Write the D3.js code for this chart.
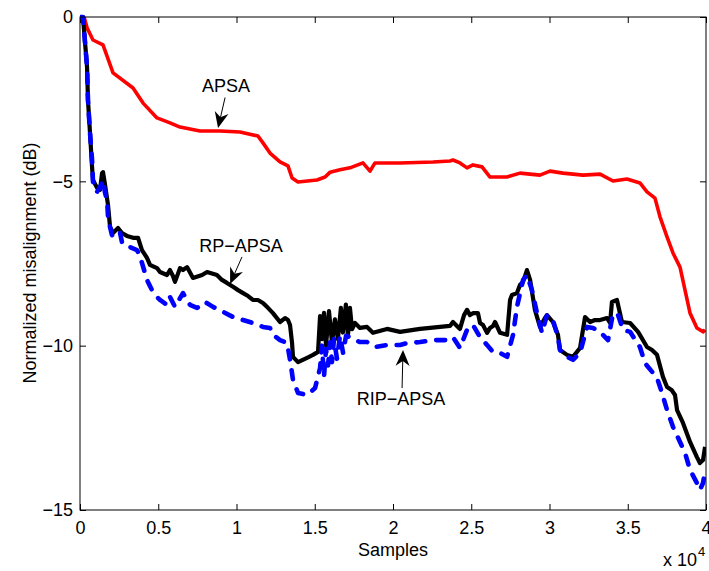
<!DOCTYPE html>
<html><head><meta charset="utf-8">
<script src="https://cdn.jsdelivr.net/npm/d3@7"></script>
<style>body{margin:0;background:#fff}svg{display:block}text{font-family:"Liberation Sans",Arial,sans-serif;fill:#000}</style>
</head><body>
<svg id="c" width="709" height="571"></svg>
<script>
// ---- data (samples, dB) ----
const xTicks = [0, 5000, 10000, 15000, 20000, 25000, 30000, 35000, 40000];
const xTickLabels = ["0", "0.5", "1", "1.5", "2", "2.5", "3", "3.5", "4"];
const yTicks = [0, -5, -10, -15];
const yTickLabels = ["0", "\u22125", "\u221210", "\u221215"];

const apsaX = [260,450,830,1470,2110,3390,4030,4920,5750,6390,7670,8950,10220,11370,11690,12140,12780,13290,13550,13930,15140,15660,15980,16610,17250,18080,18530,18850,20450,22560,23640,23830,24280,24730,25110,25690,26200,27280,28120,29390,30030,30860,32140,33230,34060,34950,35780,36230,36740,37060,37510,37890,38340,38660,38980,39420,39810,39940];
const apsaY = [0,-0.33,-0.70,-0.85,-1.70,-2.16,-2.62,-3.07,-3.22,-3.35,-3.47,-3.47,-3.50,-3.62,-3.83,-4.14,-4.41,-4.53,-4.90,-5.02,-4.96,-4.87,-4.72,-4.65,-4.59,-4.44,-4.69,-4.44,-4.44,-4.41,-4.38,-4.35,-4.44,-4.59,-4.50,-4.56,-4.87,-4.87,-4.75,-4.81,-4.69,-4.75,-4.81,-4.78,-4.99,-4.93,-5.05,-5.32,-5.51,-6.08,-6.69,-7.18,-7.61,-8.31,-9.01,-9.46,-9.58,-9.52];

const rpX = [0,190,450,510,640,770,830,1090,1280,1410,1470,1600,1790,1920,2110,2430,2680,3000,3390,3710,3960,4280,4470,4920,5110,5560,5750,5940,6070,6390,6580,6840,7220,7800,8120,8750,9070,9390,9780,10100,10420,10740,11050,11370,11690,12010,12330,12780,13100,13290,13420,13550,13610,13930,14510,14890,15210,15340,15460,15590,15720,15910,16100,16290,16480,16670,16800,16990,17120,17250,17380,17570,17890,18340,18720,19620,20450,21730,23000,23640,23830,24280,24540,24730,24920,25110,25430,25560,25750,26010,26200,26390,26520,26840,27290,27480,27600,27920,28120,28310,28560,28760,29070,29390,29710,29840,30220,30540,30670,31120,31500,31950,32270,32590,32910,33230,33680,33870,33990,34310,34630,35150,35660,36230,36550,36870,37250,37510,37800,38020,38150,38530,38980,39420,39610,39810,39940];
const rpY = [0,0,-1.52,-2.53,-3.53,-4.56,-4.96,-5.20,-5.26,-4.75,-4.72,-5.11,-5.72,-6.39,-6.57,-6.42,-6.57,-6.66,-6.72,-6.72,-7.09,-7.33,-7.54,-7.64,-7.76,-7.85,-7.70,-7.88,-8.06,-7.64,-7.70,-7.61,-7.94,-7.85,-7.76,-7.85,-8.00,-8.09,-8.21,-8.31,-8.40,-8.49,-8.61,-8.61,-8.70,-8.85,-9.01,-9.28,-9.16,-9.22,-9.37,-9.92,-10.34,-10.50,-10.37,-10.28,-10.19,-9.10,-9.80,-9.00,-10.00,-8.95,-9.90,-9.20,-9.80,-8.85,-9.60,-8.75,-9.70,-8.85,-9.50,-9.31,-9.46,-9.43,-9.61,-9.49,-9.58,-9.49,-9.43,-9.40,-9.28,-9.49,-9.07,-8.91,-9.07,-9.01,-9.01,-9.31,-9.37,-9.61,-9.46,-9.40,-9.28,-9.61,-9.67,-8.61,-8.46,-8.40,-8.15,-8.06,-7.70,-8.00,-8.91,-9.43,-9.16,-9.07,-9.28,-9.67,-10.13,-10.28,-10.34,-10.07,-9.13,-9.28,-9.22,-9.22,-9.16,-9.31,-8.67,-8.61,-9.28,-9.31,-9.58,-10.04,-10.13,-10.28,-10.95,-11.26,-11.35,-11.50,-11.96,-12.35,-12.93,-13.39,-13.57,-13.48,-13.08];

const ripX = [0,190,450,510,640,770,830,960,1090,1280,1410,1470,1600,1730,1790,1920,2040,2110,2360,2560,2680,3000,3200,3640,3710,3960,4280,4600,4920,5110,5560,5750,6070,6580,7030,7480,7990,8500,9140,9780,10420,11050,11690,12140,12330,12780,13100,13230,13420,13610,13930,14510,15020,15340,15460,15590,15720,15850,15980,16100,16230,16420,16610,16810,17000,17250,17570,17890,18340,18850,19620,20450,20900,21730,22560,23450,23830,24280,24730,25110,25560,26010,26390,26840,27290,27670,27920,28310,28560,28880,29200,29520,29840,30220,30540,30670,31120,31500,31950,32400,32780,33230,33740,34060,34380,34700,35150,35780,36100,36870,37190,37510,37890,38340,38660,38980,39420,39610,39810,39940];
const ripY = [0,0,-1.52,-2.53,-3.53,-4.35,-5.02,-5.05,-5.32,-5.17,-5.05,-4.96,-5.35,-5.57,-6.08,-6.39,-6.63,-6.69,-6.69,-6.57,-6.85,-7.00,-7.00,-7.09,-7.15,-7.48,-8.00,-8.31,-8.52,-8.61,-8.76,-8.52,-8.82,-8.40,-8.76,-8.85,-8.67,-8.82,-8.97,-9.13,-9.22,-9.31,-9.43,-9.46,-9.67,-9.83,-9.89,-9.92,-10.43,-11.04,-11.44,-11.50,-11.29,-10.68,-10.00,-10.95,-10.10,-10.60,-9.90,-10.50,-9.80,-10.40,-9.70,-10.22,-9.70,-9.74,-9.83,-9.89,-9.89,-10.04,-9.98,-9.98,-9.92,-9.89,-9.83,-9.83,-9.74,-10.07,-9.52,-9.37,-9.74,-9.98,-10.19,-10.22,-10.34,-9.67,-8.82,-8.00,-7.85,-8.31,-9.01,-9.61,-9.07,-9.22,-9.74,-10.13,-10.34,-10.43,-10.22,-9.43,-9.46,-9.58,-9.83,-9.01,-9.07,-9.52,-9.58,-10.04,-10.53,-10.98,-11.44,-11.96,-12.47,-12.93,-13.26,-13.78,-14.18,-14.39,-14.18,-13.78];

// annotations: [label, textX, textY, arrowTailX, arrowTailY, arrowHeadX, arrowHeadY]
const notes = [
  ["APSA", 9330, -2.28, 9270, -2.45, 8820, -3.38],
  ["RP\u2212APSA", 10290, -7.15, 10350, -7.30, 9590, -8.12],
  ["RIP\u2212APSA", 20510, -11.80, 20580, -11.29, 20640, -10.13]
];

// ---- layout ----
const L = 80, R = 706, T = 17, B = 510;
const svg = d3.select("#c");
const x = d3.scaleLinear().domain([0, 40000]).range([L, R]);
const y = d3.scaleLinear().domain([-15, 0]).range([B, T]);
const FS = 18;

const ax = (g) => g.selectAll(".domain").remove();
svg.append("g").attr("transform", `translate(0,${B})`)
  .call(d3.axisBottom(x).tickValues(xTicks).tickFormat((d,i)=>xTickLabels[i]).tickSizeInner(-6).tickSizeOuter(0).tickPadding(11))
  .call(ax).call(g=>g.selectAll("text").attr("font-size",FS).attr("font-family","Liberation Sans, Arial"));
svg.append("g").attr("transform", `translate(${L},0)`)
  .call(d3.axisLeft(y).tickValues(yTicks).tickFormat((d,i)=>yTickLabels[i]).tickSizeInner(-6).tickSizeOuter(0).tickPadding(7))
  .call(ax).call(g=>g.selectAll("text").attr("font-size",FS).attr("font-family","Liberation Sans, Arial"));
svg.append("g").attr("transform", `translate(0,${T})`)
  .call(d3.axisTop(x).tickValues(xTicks).tickFormat("").tickSizeInner(-6).tickSizeOuter(0)).call(ax);
svg.append("g").attr("transform", `translate(${R},0)`)
  .call(d3.axisRight(y).tickValues(yTicks).tickFormat("").tickSizeInner(-6).tickSizeOuter(0)).call(ax);

svg.append("defs").append("clipPath").attr("id","clip").append("rect")
  .attr("x",L).attr("y",T-3).attr("width",R-L).attr("height",B-T+3);

const line = d3.line().x(d=>x(d[0])).y(d=>y(d[1]));
const plot = svg.append("g").attr("clip-path","url(#clip)");
plot.append("path").datum(apsaX.map((v,i)=>[v,apsaY[i]])).attr("d",line)
  .attr("fill","none").attr("stroke","#ff0000").attr("stroke-width",3.6).attr("stroke-linejoin","round");
plot.append("path").datum(rpX.map((v,i)=>[v,rpY[i]])).attr("d",line)
  .attr("fill","none").attr("stroke","#000").attr("stroke-width",4.2).attr("stroke-linejoin","round");
plot.append("path").datum(ripX.map((v,i)=>[v,ripY[i]])).attr("d",line)
  .attr("fill","none").attr("stroke","#0000ff").attr("stroke-width",4.6).attr("stroke-linejoin","round")
  .attr("stroke-linecap","round").attr("stroke-dasharray","9,11");

svg.append("rect").attr("x",L).attr("y",T).attr("width",R-L).attr("height",B-T)
  .attr("fill","none").attr("stroke","#000").attr("stroke-width",1);

notes.forEach(n=>{
  svg.append("text").attr("x",x(n[1])).attr("y",y(n[2])).attr("text-anchor","middle")
    .attr("font-size",FS).text(n[0]);
  const x0=x(n[3]), y0=y(n[4]), x1=x(n[5]), y1=y(n[6]);
  const dx=x1-x0, dy=y1-y0, len=Math.hypot(dx,dy), ux=dx/len, uy=dy/len, px=-uy, py=ux;
  const hl=16, hw=7, notch=5;
  svg.append("line").attr("x1",x0).attr("y1",y0).attr("x2",x1-ux*(hl-notch)).attr("y2",y1-uy*(hl-notch))
    .attr("stroke","#000").attr("stroke-width",1);
  const pts=[[x1,y1],[x1-ux*hl+px*hw,y1-uy*hl+py*hw],[x1-ux*(hl-notch),y1-uy*(hl-notch)],[x1-ux*hl-px*hw,y1-uy*hl-py*hw]];
  svg.append("polygon").attr("points",pts.map(p=>p.join(",")).join(" ")).attr("fill","#000");
});

svg.append("text").attr("x",(L+R)/2).attr("y",556).attr("text-anchor","middle").attr("font-size",FS).text("Samples");
svg.append("text").attr("transform","translate(36,263) rotate(-90)").attr("text-anchor","middle").attr("font-size",FS).text("Normalized misalignment (dB)");
svg.append("text").attr("x",697).attr("y",566).attr("text-anchor","end").attr("font-size",FS).text("x 10");
svg.append("text").attr("x",698).attr("y",556).attr("font-size",13).text("4");
</script>
</body></html>
